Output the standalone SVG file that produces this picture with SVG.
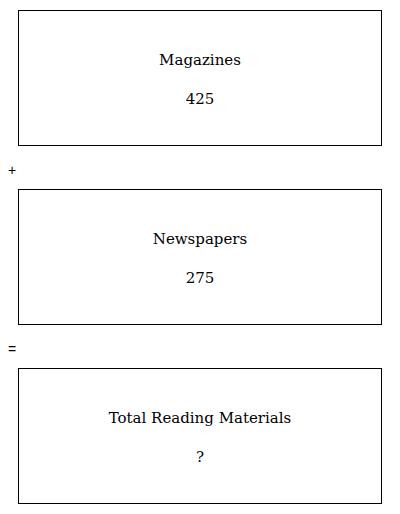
<svg xmlns="http://www.w3.org/2000/svg" width="400" height="514" viewBox="0 0 400 514">
<style>
.box{fill:#fff;stroke:#000;stroke-width:1}
.t{font-family:"DejaVu Serif","Liberation Serif",serif;font-size:15px;fill:#000;text-anchor:middle}
.op{font-family:"Liberation Sans",Arial,sans-serif;font-size:14px;fill:#000}
</style>
<rect width="400" height="514" fill="#fff"/>
<g id="magazines">
<rect class="box" x="18.5" y="10.5" width="363" height="135"/>
<text class="t" x="200" y="65">Magazines</text>
<text class="t" x="200" y="104">425</text>
</g>
<g id="plus"><text class="op" x="8" y="175">+</text></g>
<g id="newspapers">
<rect class="box" x="18.5" y="189.5" width="363" height="135"/>
<text class="t" x="200" y="244">Newspapers</text>
<text class="t" x="200" y="283">275</text>
</g>
<g id="equals"><text class="op" x="8" y="354">=</text></g>
<g id="total">
<rect class="box" x="18.5" y="368.5" width="363" height="135"/>
<text class="t" x="200" y="423">Total Reading Materials</text>
<text class="t" x="200" y="462">?</text>
</g>
<g id="connectors"/>
</svg>
